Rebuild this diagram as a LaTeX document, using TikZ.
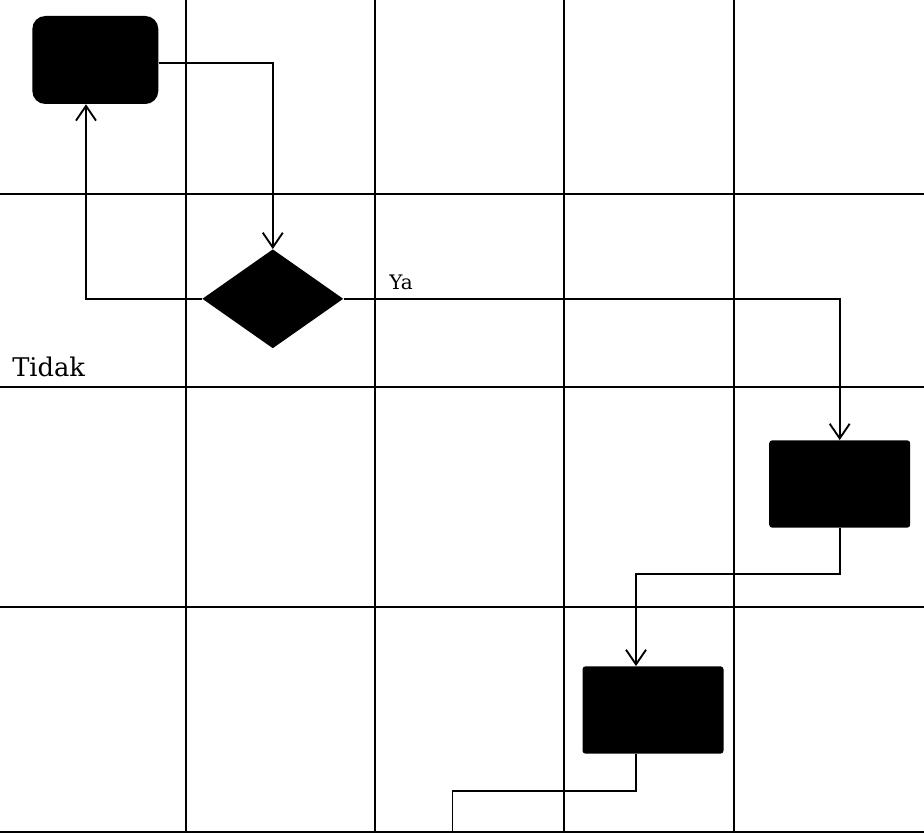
\documentclass[tikz,border=0pt]{standalone}
\usepackage{fontspec}
\setmainfont{DejaVu Serif}
\usetikzlibrary{shapes.geometric,arrows.meta,calc}
\begin{document}
\begin{tikzpicture}[x=0.75pt,y=-0.75pt,
  gridline/.style={line width=2.1pt,black},
  conn/.style={line width=1.4pt,black},
  arr/.style={conn,-{Straight Barb[length=11pt,width=15pt,line width=1.4pt]}},
  startbox/.style={rectangle,fill=black,draw=none,rounded corners=9.75pt,minimum width=94.5pt,minimum height=66pt,inner sep=0pt},
  procbox/.style={rectangle,fill=black,draw=none,rounded corners=2.25pt,minimum width=105.75pt,minimum height=65.5pt,inner sep=0pt},
  decbox/.style={diamond,fill=black,draw=none,minimum width=105.75pt,minimum height=74.25pt,inner sep=0pt},
  lbl/.style={inner sep=0pt,anchor=base west}]
\useasboundingbox (0,0) rectangle (924,834);
% grid
\foreach \gx in {186,375,564,734} \draw[gridline] (\gx,0) -- (\gx,832);
\foreach \gy in {194,387,607,832} \draw[gridline] (0,\gy) -- (924,\gy);
% nodes
\node[startbox] (start) at (95.3,60) {};
\node[decbox] (dec) at (272.8,298.8) {};
\node[procbox] (b2) at (839.7,484) {};
\node[procbox] (b3) at (653,710) {};
\coordinate (startout) at ($(start.east)+(0,3)$);
\coordinate (upin) at ($(start.south)+(-9.3,0)$);
\coordinate (b3in) at ($(b3.north)+(-17,0)$);
\coordinate (b3out) at ($(b3.south)+(-17,0)$);
\coordinate (m1) at (636,574);
\coordinate (m2) at (452.5,791);
\coordinate (endpt) at (452.5,832);
% connectors
\draw[arr] (startout) -| (dec.north);
\draw[arr] (dec.west) -| (upin);
\draw[arr] (dec.east) -| (b2.north);
\draw[arr] (b2.south) |- (m1) -- (b3in);
\draw[conn] (b3out) |- (m2) -- (endpt);
% labels
\node[lbl,font=\fontsize{15}{17}\selectfont] (ya) at (389,290) {Ya};
\node[lbl,font=\fontsize{19.3}{22}\selectfont] (tidak) at (12,376) {Tidak};
\end{tikzpicture}
\end{document}
